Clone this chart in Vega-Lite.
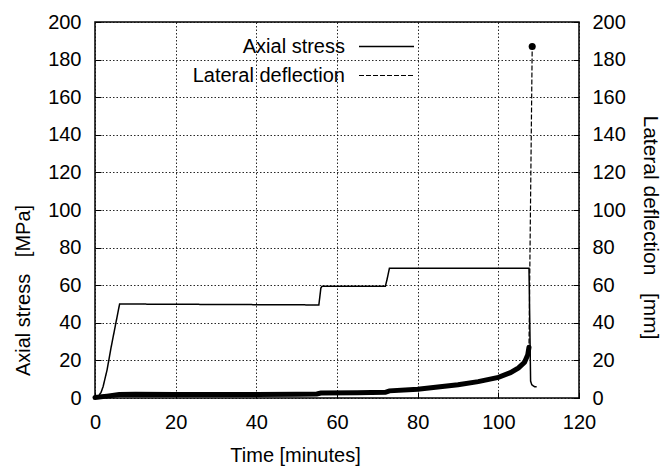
{
  "$schema": "https://vega.github.io/schema/vega-lite/v6.json",
  "width": 484,
  "height": 376,
  "autosize": "none",
  "padding": {"left": 95, "top": 22, "right": 83, "bottom": 72},
  "background": "white",
  "config": {
    "font": "Liberation Sans",
    "view": {"stroke": "black", "strokeWidth": 1.5},
    "axis": {
      "labelFontSize": 20,
      "titleFontSize": 20,
      "labelColor": "black",
      "titleColor": "black",
      "titleFontWeight": "normal",
      "labelFlush": false,
      "domain": false,
      "tickColor": "black",
      "tickSize": -6,
      "tickWidth": 1,
      "gridColor": "#111111",
      "gridDash": [1.5, 2],
      "gridWidth": 1,
      "gridOpacity": 0.9
    },
    "legend": {"padding": 0}
  },
  "datasets": {
    "stress": [
      {"t": 0, "stress": 0},
      {"t": 0.5, "stress": 0.5},
      {"t": 1, "stress": 1.5},
      {"t": 1.5, "stress": 3},
      {"t": 2, "stress": 6},
      {"t": 3, "stress": 15},
      {"t": 4, "stress": 27},
      {"t": 5, "stress": 38},
      {"t": 6.1, "stress": 50},
      {"t": 55.5, "stress": 49.5},
      {"t": 56, "stress": 58.5},
      {"t": 56.3, "stress": 59.5},
      {"t": 72, "stress": 59.5},
      {"t": 72.4, "stress": 63},
      {"t": 73, "stress": 69},
      {"t": 107.6, "stress": 69},
      {"t": 107.8, "stress": 40},
      {"t": 108, "stress": 9},
      {"t": 108.3, "stress": 7},
      {"t": 109, "stress": 6},
      {"t": 109.5, "stress": 6}
    ],
    "defl": [
      {"t": 0, "defl": 0.3},
      {"t": 1, "defl": 0.5},
      {"t": 3, "defl": 1.0},
      {"t": 6, "defl": 1.8},
      {"t": 10, "defl": 2.0},
      {"t": 20, "defl": 1.8},
      {"t": 30, "defl": 1.8},
      {"t": 40, "defl": 1.9},
      {"t": 50, "defl": 2.0},
      {"t": 55, "defl": 2.1},
      {"t": 56, "defl": 2.6},
      {"t": 65, "defl": 2.8},
      {"t": 72, "defl": 3.0},
      {"t": 73, "defl": 3.8},
      {"t": 80, "defl": 4.6},
      {"t": 85, "defl": 5.8},
      {"t": 90, "defl": 7.0},
      {"t": 95, "defl": 8.7},
      {"t": 100, "defl": 11},
      {"t": 103, "defl": 13.5},
      {"t": 105, "defl": 16},
      {"t": 106.5, "defl": 19},
      {"t": 107.3, "defl": 23},
      {"t": 107.6, "defl": 27},
      {"t": 108.4, "defl": 187}
    ]
  },
  "layer": [
    {
      "data": {"name": "stress"},
      "mark": {"type": "line", "color": "black", "strokeWidth": 1.5},
      "encoding": {
        "x": {
          "field": "t", "type": "quantitative",
          "scale": {"domain": [0, 120], "nice": false},
          "axis": {
            "values": [0, 20, 40, 60, 80, 100, 120],
            "title": "Time [minutes]",
            "grid": true,
            "labelPadding": 20,
            "titlePadding": 13,
            "titleX": 200
          }
        },
        "y": {
          "field": "stress", "type": "quantitative",
          "scale": {"domain": [0, 200], "nice": false},
          "axis": {
            "orient": "left",
            "values": [0, 20, 40, 60, 80, 100, 120, 140, 160, 180, 200],
            "title": "Axial stress\u00a0\u00a0 [MPa]",
            "grid": true,
            "labelPadding": 20,
            "titlePadding": 14,
            "titleY": 268
          }
        },
        "strokeDash": {
          "datum": "Axial stress",
          "type": "nominal",
          "scale": {"range": [[1, 0]]},
          "legend": {
            "title": null,
            "orient": "none",
            "legendX": 263,
            "legendY": -4,
            "symbolType": "stroke",
            "symbolSize": 3025,
            "symbolStrokeColor": "black",
            "symbolStrokeWidth": 1.5,
            "labelFontSize": 20,
            "labelColor": "black",
            "labelAlign": "right",
            "labelOffset": -70
          }
        }
      }
    },
    {
      "data": {"name": "defl"},
      "encoding": {
        "x": {"field": "t", "type": "quantitative"},
        "y": {
          "field": "defl", "type": "quantitative",
          "scale": {"domain": [0, 200], "nice": false},
          "axis": {
            "orient": "right",
            "values": [0, 20, 40, 60, 80, 100, 120, 140, 160, 180, 200],
            "title": "Lateral deflection\u00a0\u00a0 [mm]",
            "titleFontSize": 21,
            "grid": false,
            "labelPadding": 19,
            "titlePadding": 14,
            "titleY": 205
          }
        }
      },
      "layer": [
        {
          "transform": [{"filter": "datum.t <= 107.6"}],
          "mark": {"type": "line", "color": "black", "strokeWidth": 5, "strokeCap": "round"}
        },
        {
          "mark": {"type": "line", "color": "black", "strokeWidth": 1.2},
          "encoding": {
            "strokeDash": {
              "datum": "Lateral deflection",
              "type": "nominal",
              "scale": {"range": [[5, 2]]},
              "legend": {
                "title": null,
                "orient": "none",
                "legendX": 263,
                "legendY": 25,
                "symbolType": "stroke",
                "symbolSize": 3025,
                "symbolStrokeColor": "black",
                "symbolStrokeWidth": 1.2,
                "labelFontSize": 20,
                "labelColor": "black",
                "labelAlign": "right",
                "labelOffset": -70
              }
            }
          }
        },
        {
          "transform": [{"filter": "datum.t >= 108.4"}],
          "mark": {"type": "point", "filled": true, "color": "black", "size": 50, "opacity": 1}
        }
      ]
    }
  ],
  "resolve": {
    "scale": {"y": "independent", "strokeDash": "independent"},
    "legend": {"strokeDash": "independent"}
  }
}
